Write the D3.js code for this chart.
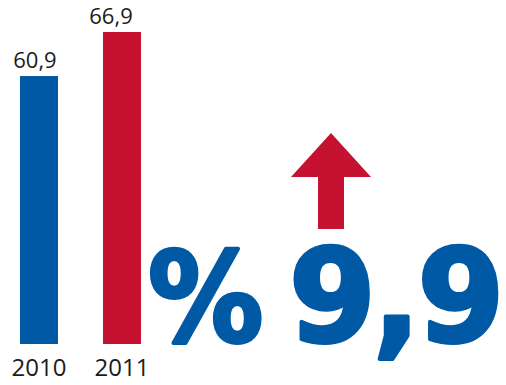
<!DOCTYPE html>
<html>
<head>
<meta charset="utf-8">
<script src="https://cdn.jsdelivr.net/npm/d3@7"></script>
<style>
  html, body { margin: 0; padding: 0; background: #fff; }
  svg { display: block; }
</style>
</head>
<body>
<svg id="chart" width="506" height="385"></svg>
<script>
// Yearly totals and the change between them
const years = ["2010", "2011"];
const values = [60.9, 66.9];
const valueLabels = ["60,9", "66,9"];
const changeSign = "%";
const changeValue = "9,9";

const colors = ["#0059a5", "#c41230"];
const textColor = "#1b1b1b";
const labelFont = "'Open Sans', 'DejaVu Sans', sans-serif";
const bigFont = "'DejaVu Sans', sans-serif";

const svg = d3.select("#chart");

// Band scale for the two bars
const x = d3.scaleBand()
  .domain(years)
  .range([20, 141])
  .paddingInner(0.5422)
  .paddingOuter(0);

// Truncated value axis (bars start at the common baseline)
const y = d3.scaleLinear()
  .domain([24.4, 66.9])
  .range([344, 32]);

const bars = svg.append("g");
bars.selectAll("rect")
  .data(values)
  .join("rect")
  .attr("x", (d, i) => x(years[i]))
  .attr("y", d => y(d))
  .attr("width", x.bandwidth())
  .attr("height", d => y.range()[0] - y(d))
  .attr("fill", (d, i) => colors[i]);

// Value labels above the bars
const labelShift = [-4, -11];
bars.selectAll("text.value")
  .data(values)
  .join("text")
  .attr("class", "value")
  .attr("x", (d, i) => x(years[i]) + x.bandwidth() / 2 + labelShift[i])
  .attr("y", d => y(d) - 8)
  .attr("text-anchor", "middle")
  .attr("font-family", labelFont)
  .attr("font-size", 22)
  .attr("fill", textColor)
  .text((d, i) => valueLabels[i]);

// Year labels under the bars
const xAxis = svg.append("g")
  .attr("transform", `translate(0, ${y.range()[0]})`)
  .call(d3.axisBottom(x).tickSize(0).tickPadding(32));
xAxis.select(".domain").remove();
xAxis.selectAll("text")
  .attr("font-family", labelFont)
  .attr("font-size", 24)
  .attr("fill", textColor)
  .attr("dy", 0);

// Upward arrow
const arrow = { cx: 331, tip: 133, headBase: 177, headHalf: 40, shaftHalf: 13, bottom: 229 };
svg.append("path")
  .attr("d", d3.line()([
    [arrow.cx, arrow.tip],
    [arrow.cx + arrow.headHalf, arrow.headBase],
    [arrow.cx + arrow.shaftHalf, arrow.headBase],
    [arrow.cx + arrow.shaftHalf, arrow.bottom],
    [arrow.cx - arrow.shaftHalf, arrow.bottom],
    [arrow.cx - arrow.shaftHalf, arrow.headBase],
    [arrow.cx - arrow.headHalf, arrow.headBase]
  ]) + "Z")
  .attr("fill", colors[1]);

// Large percentage change, in a heavy setting
const bigStyle = sel => sel
  .attr("font-family", bigFont)
  .attr("font-weight", "bold")
  .attr("font-size", 128)
  .attr("fill", colors[0])
  .attr("stroke", colors[0])
  .attr("stroke-width", 4)
  .attr("stroke-linejoin", "round");

svg.append("text")
  .attr("transform", "translate(148, 341) scale(0.9, 0.97)")
  .call(bigStyle)
  .text(changeSign);

svg.append("text")
  .attr("transform", "translate(289, 341) scale(0.975, 1)")
  .attr("letter-spacing", -3)
  .call(bigStyle)
  .text(changeValue);
</script>
</body>
</html>
